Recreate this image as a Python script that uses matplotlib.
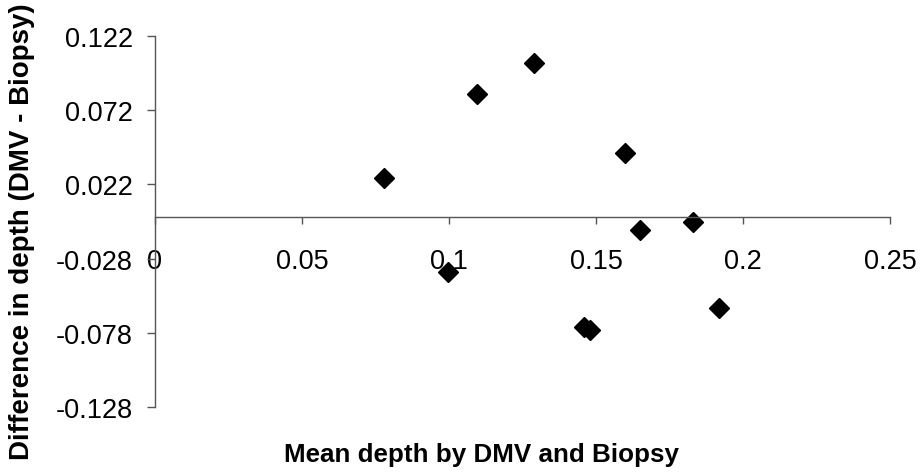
import matplotlib
matplotlib.use("Agg")
import matplotlib.pyplot as plt

# mean depth vs. difference (DMV - Biopsy)
mean_depth = [0.078, 0.0997, 0.1095, 0.129, 0.160, 0.165, 0.183, 0.146, 0.148, 0.192]
difference = [0.026, -0.037, 0.083, 0.104, 0.043, -0.009, -0.003, -0.074, -0.076, -0.061]

x_ticks = [0, 0.05, 0.1, 0.15, 0.2, 0.25]
x_labels = ["0", "0.05", "0.1", "0.15", "0.2", "0.25"]
y_ticks = [-0.128, -0.078, -0.028, 0.022, 0.072, 0.122]
y_labels = ["-0.128", "-0.078", "-0.028", "0.022", "0.072", "0.122"]

plt.rcParams["font.family"] = ["Liberation Sans", "DejaVu Sans"]

fig = plt.figure(figsize=(9.23, 4.77), dpi=100)
ax = fig.add_axes([155 / 923, 1 - 408 / 477, (890 - 155) / 923, (408 - 37) / 477])

ax.plot(mean_depth, difference, linestyle="none", marker="D",
        markersize=10, color="black")

ax.set_xlim(0, 0.25)
ax.set_ylim(-0.128, 0.122)

ax.spines["left"].set_position(("data", 0))
ax.spines["bottom"].set_position(("data", 0))
ax.spines["top"].set_visible(False)
ax.spines["right"].set_visible(False)
for side in ("left", "bottom"):
    ax.spines[side].set_color("#555555")
    ax.spines[side].set_linewidth(1.0)

ax.set_xticks(x_ticks)
ax.set_xticklabels(x_labels)
ax.set_yticks(y_ticks)
ax.set_yticklabels(y_labels)
ax.tick_params(axis="x", direction="out", length=5, width=1, color="#555555",
               pad=17, labelsize=19.5)
ax.tick_params(axis="y", direction="out", length=6, width=1, color="#555555",
               pad=10, labelsize=19.5)

fig.text(482 / 923, 1 - 455 / 477, "Mean depth by DMV and Biopsy",
         ha="center", va="center", fontsize=18.7, fontweight="bold")
fig.text(22 / 923, 1 - 232 / 477, "Difference in depth (DMV - Biopsy)",
         ha="center", va="center", rotation=90, fontsize=20, fontweight="bold")

fig.savefig("out.png", dpi=100)
